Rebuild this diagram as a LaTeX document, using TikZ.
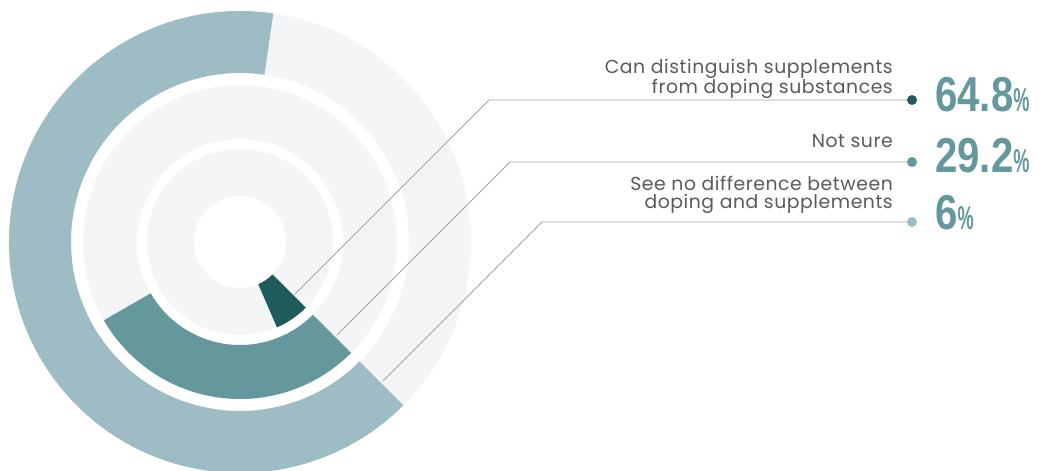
\documentclass[tikz,border=0pt]{standalone}
\usepackage{fontspec}
\setmainfont{Poppins}[LetterSpace=3]
\newfontfamily\numfont{Liberation Sans}
\usetikzlibrary{calc}
\definecolor{ringgrey}{HTML}{F4F5F7}
\definecolor{lightteal}{HTML}{9DBCC3}
\definecolor{midteal}{HTML}{64989D}
\definecolor{darkteal}{HTML}{1F5B5C}
\definecolor{linegrey}{HTML}{A3A3A3}
\definecolor{labelgrey}{HTML}{5A5A5A}
\tikzset{
  dotnode/.style={circle,inner sep=0pt,minimum size=10pt},
  conn/.style={draw=linegrey,line width=0.9pt},
  label/.style={anchor=base east,inner sep=0pt,text=labelgrey,font=\fontsize{18.8}{20}\selectfont},
  pct/.style={anchor=base west,inner sep=0pt,text=midteal},
}
\newcommand{\pctval}[1]{{\numfont\bfseries\scalebox{0.82}[1]{\fontsize{49}{49}\selectfont #1}\scalebox{0.55}[1]{\fontsize{33}{33}\selectfont\%}}}
\begin{document}
\begin{tikzpicture}[x=1pt,y=1pt]
\useasboundingbox (0,0) rectangle (1039,471);
\coordinate (C) at (240,229);
% grey background rings
\fill[ringgrey,even odd rule] (C) circle[radius=231] (C) circle[radius=169]
  (C) circle[radius=157] (C) circle[radius=103] (C) circle[radius=93] (C) circle[radius=46];
% outer segment 64.8%
\fill[lightteal] ($(C)+(81.7:231)$) arc[start angle=81.7,end angle=315,radius=231]
  -- ($(C)+(315:169)$) arc[start angle=315,end angle=81.7,radius=169] -- cycle;
% middle segment 29.2%
\fill[midteal] ($(C)+(209.9:157)$) arc[start angle=209.9,end angle=315,radius=157]
  -- ($(C)+(315:103)$) arc[start angle=315,end angle=209.9,radius=103] -- cycle;
% inner segment 6%
\fill[darkteal] ($(C)+(293.4:93)$) arc[start angle=293.4,end angle=315,radius=93]
  -- ($(C)+(315:46)$) arc[start angle=315,end angle=293.4,radius=46] -- cycle;
% dots
\node[dotnode,fill=darkteal] (d1) at (912,371) {};
\node[dotnode,fill=midteal] (d2) at (912,309) {};
\node[dotnode,fill=lightteal] (d3) at (912,249) {};
% connectors
\coordinate (s1) at (295,177);
\coordinate (b1) at (489,371);
\coordinate (s2) at (337,136);
\coordinate (b2) at (510,309);
\coordinate (s3) at (383,90);
\coordinate (b3) at (542,249);
\draw[conn] (s1) -- (b1) -- (d1);
\draw[conn] (s2) -- (b2) -- (d2);
\draw[conn] (s3) -- (b3) -- (d3);
% labels
\node[label] (t1a) at (893,397.7) {Can distinguish supplements};
\node[label] (t1b) at (893,377.7) {from doping substances};
\node[label] (t2) at (893,323) {Not sure};
\node[label] (t3a) at (893,280.3) {See no difference between};
\node[label] (t3b) at (893,262) {doping and supplements};
% percentages
\node[pct] (p1) at (935,359) {\pctval{64.8}};
\node[pct] (p2) at (935,298) {\pctval{29.2}};
\node[pct] (p3) at (935,241) {\pctval{6}};
\end{tikzpicture}
\end{document}
